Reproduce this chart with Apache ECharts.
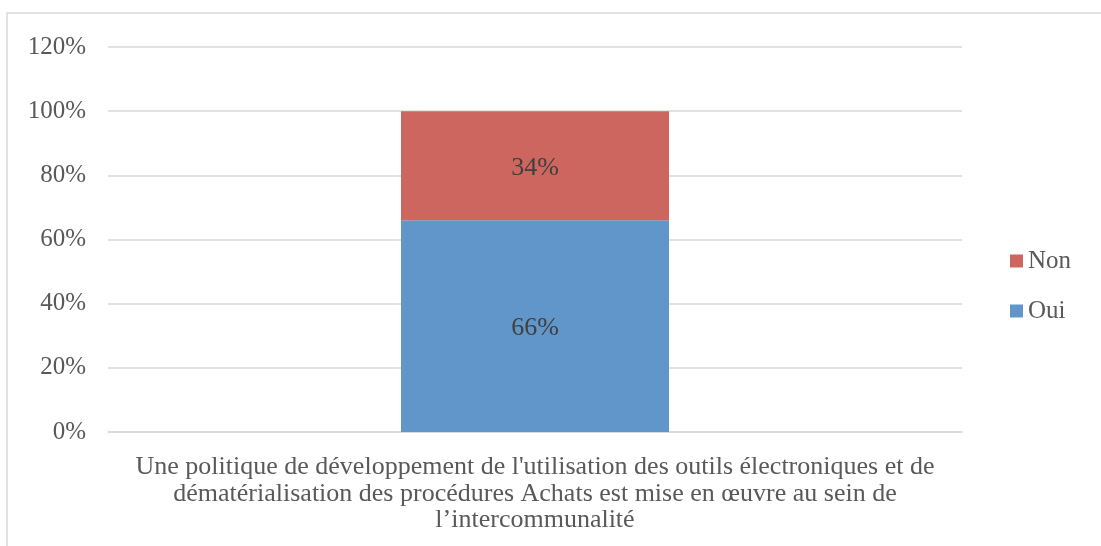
<!DOCTYPE html>
<html>
<head>
<meta charset="utf-8">
<script src="https://cdn.jsdelivr.net/npm/echarts@6/dist/echarts.min.js"></script>
<style>
  html, body { margin: 0; padding: 0; background: #ffffff; }
  #chart { width: 1101px; height: 546px; }
</style>
</head>
<body>
<div id="chart"></div>
<script>
// Survey question (single category) and answer shares, in percent
const categories = [
  "Une politique de développement de l'utilisation des outils électroniques et de\ndématérialisation des procédures Achats est mise en œuvre au sein de\nl’intercommunalité"
];
const ouiValues = [66];
const nonValues = [34];
const legendOrder = ['Non', 'Oui'];

const FONT = '"Liberation Serif", "DejaVu Serif", serif';
const chart = echarts.init(document.getElementById('chart'), null, { renderer: 'canvas' });

const labelStyle = {
  show: true,
  position: 'inside',
  offset: [0, 2],
  formatter: p => p.value + '%',
  color: '#404040',
  fontFamily: FONT,
  fontSize: 26
};

chart.setOption({
  animation: false,
  backgroundColor: '#ffffff',
  graphic: [{
    type: 'rect',
    shape: { x: 7, y: 13, width: 1200, height: 600 },
    style: { fill: 'none', stroke: '#d9d9d9', lineWidth: 1.5 },
    silent: true,
    z: -1
  }],
  grid: { left: 108, right: 139, top: 47, bottom: 114, containLabel: false },
  legend: {
    data: legendOrder,
    orient: 'vertical',
    left: 1005,
    top: 243,
    itemWidth: 13,
    itemHeight: 13,
    itemGap: 24,
    icon: 'rect',
    textStyle: { color: '#595959', fontFamily: FONT, fontSize: 25, lineHeight: 26 }
  },
  xAxis: {
    type: 'category',
    data: categories,
    axisLine: { show: true, lineStyle: { color: '#d9d9d9', width: 1.5 } },
    axisTick: { show: false },
    axisLabel: {
      color: '#595959',
      fontFamily: FONT,
      fontSize: 26,
      lineHeight: 26.5,
      margin: 22,
      interval: 0
    }
  },
  yAxis: {
    type: 'value',
    min: 0,
    max: 120,
    interval: 20,
    axisLine: { show: false },
    axisTick: { show: false },
    splitLine: { lineStyle: { color: '#d9d9d9', width: 1.5 } },
    axisLabel: {
      formatter: v => v + '%',
      color: '#595959',
      fontFamily: FONT,
      fontSize: 25,
      margin: 22
    }
  },
  series: [
    {
      name: 'Oui',
      type: 'bar',
      stack: 'total',
      data: ouiValues,
      barWidth: 268,
      itemStyle: { color: '#6096CA' },
      label: labelStyle
    },
    {
      name: 'Non',
      type: 'bar',
      stack: 'total',
      data: nonValues,
      barWidth: 268,
      itemStyle: { color: '#CD665F' },
      label: labelStyle
    }
  ]
});
</script>
</body>
</html>
